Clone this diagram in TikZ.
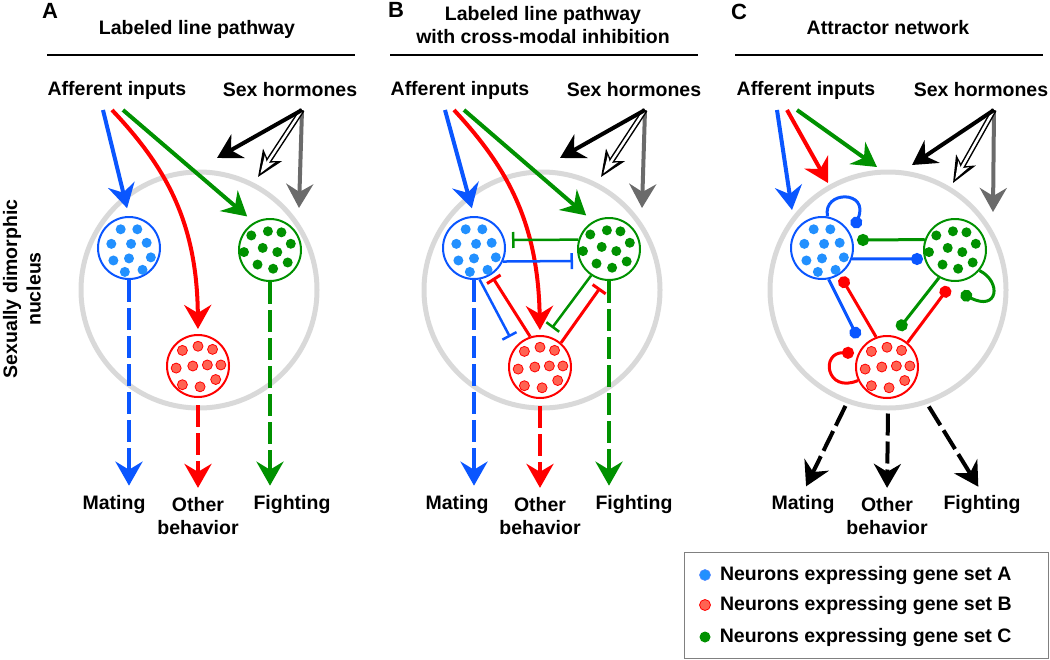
\documentclass[tikz,border=0pt]{standalone}
\usepackage{fontspec}
\setmainfont{Liberation Sans}
\usetikzlibrary{arrows.meta,calc,positioning}
\definecolor{geneA}{HTML}{0A56FF}
\definecolor{geneB}{HTML}{FF0000}
\definecolor{geneC}{HTML}{009100}
\definecolor{dotA}{HTML}{2290FF}
\definecolor{dotB}{HTML}{FF6352}
\definecolor{nucgray}{HTML}{D9D9D9}
\definecolor{hormgray}{HTML}{6B6B6B}
\tikzset{nucleus/.style={
            draw=nucgray,
            line width=5pt,
            circle,
            inner sep=0pt,
            minimum size=236pt
        },
        cluster/.style={
            draw=#1,
            fill=white,
            line width=2pt,
            circle,
            inner sep=0pt,
            minimum size=62pt
        },
        dotsA/.style={fill=dotA},
        dotsB/.style={fill=dotB, draw=geneB, line width=0.8pt},
        dotsC/.style={fill=geneC},
        txt/.style={
            font=\bfseries\fontsize{19.5}{23.5}\selectfont,
            align=center,
            inner sep=2pt
        },
        letter/.style={
            font=\bfseries\fontsize{22}{24}\selectfont,
            inner sep=1pt
        },
        hrule/.style={line width=2pt},
        afferent/.style={
            #1,
            line width=4pt,
            -{Stealth[length=24pt,width=27pt,inset=8pt]}
        },
        hormone/.style={
            #1,
            line width=4pt,
            -{Stealth[length=24pt,width=27pt,inset=8pt]}
        },
        hollow/.style={
            black,
            line width=5.5pt,
            -{Stealth[length=26pt,width=22pt,inset=7pt]}
        },
        hollowcore/.style={
            white,
            line width=2.5pt,
            shorten <=2pt,
            shorten >=4.5pt,
            -{Stealth[length=17pt,width=12pt,inset=5pt]}
        },
        output/.style={
            #1,
            line width=4pt,
            dash pattern=on 22pt off 6pt,
            shorten >=7pt,
            -{Stealth[length=24pt,width=27pt,inset=8pt]}
        },
        inhibit/.style={
            #1,
            line width=2.5pt,
            -{Bar[width=16pt]}
        },
        excite/.style={
            #1,
            line width=3pt,
            -{Circle[length=12pt]}
        },
        keydot/.style={
            circle,
            inner sep=0pt,
            minimum size=11pt,
            #1
        },
        keybox/.style={
            draw=gray,
            line width=1pt,
            minimum width=364pt,
            minimum height=106pt
        }
    }
% offsets of the neurons inside a cluster
\def\patA{-8/-18,8/-18,-17/-4,2/-4,17/-5,-15/12,0/10,21/9,-4/23,13/21}
\def\patB{-15/-15,0/-19,14/-16,-21/2,-5/0,9/-1,22/-1,-15/18,2/20,17/13}
\def\patC{-18/-14,-2/-18,11/-17,-25/2,-7/-2,7/2,20/-6,-12/14,3/18,17/12}
\newcommand{\dotcluster}[3]{%
    \foreach \dx/\dy in #3
        \path[#2] ($(#1)+(1.04*\dx,1.04*\dy)$) circle[radius=5pt];
}

\begin{document}
\begin{tikzpicture}[x=1pt,y=-1pt]
    \useasboundingbox (0,0) rectangle (1050,659);

    % panel A
    \node[letter] (A-letter) at (50,11) {A};
    \node[txt] (A-title) at (197,29) {Labeled line pathway};
    \draw[hrule] (47,55) -- (355,55);
    \node[txt] (A-aff) at (117,90) {Afferent inputs};
    \node[txt] (A-sex) at (290,90) {Sex hormones};
    \node[txt, rotate=90] (A-side) at (22,289) {Sexually dimorphic\\nucleus};
    \node[nucleus] (A-nuc) at (199,290) {};
    \node[cluster=geneA] (A-blue) at (129,248) {};
    \node[cluster=geneC] (A-green) at (270,250) {};
    \node[cluster=geneB] (A-red) at (198,366) {};
    \dotcluster{A-blue}{dotsA}{\patA}
    \dotcluster{A-green}{dotsC}{\patC}
    \dotcluster{A-red}{dotsB}{\patB}
    \node[txt] (A-mate) at (114,504) {Mating};
    \node[txt] (A-other) at (198,516) {Other\\behavior};
    \node[txt] (A-fight) at (292,504) {Fighting};
    \coordinate (A-in) at (112,110);
    \coordinate (A-hor) at (302,110);
    \coordinate (A-hb) at (217,158);
    \coordinate (A-ho) at (258,177);
    \coordinate (A-hg) at (299,208);
    \draw[afferent=geneA, shorten >=8pt] ([xshift=-9pt]A-in) -- (A-blue.north);
    \draw[afferent=geneC, shorten >=9pt] ([xshift=11pt]A-in) -- (A-green.120);
    \draw[afferent=geneB, shorten >=5pt] (A-in) .. controls (164,165) and (197,220) .. (A-red.north);
    \draw[hormone=hormgray] (A-hor) -- (A-hg);
    \draw[hollow] (A-hor) -- (A-ho);
    \draw[hollowcore] (A-hor) -- (A-ho);
    \draw[hormone=black] (A-hor) -- (A-hb);
    \draw[output=geneA] (A-blue.south) -- (A-blue.south |- A-mate.north);
    \draw[output=geneB, shorten <=7pt] (A-red.south) -- (A-red.south |- A-other.north);
    \draw[output=geneC] (A-green.south) -- (A-green.south |- A-fight.north);

    % panel B
    \node[letter] (B-letter) at (396,10) {B};
    \node[txt] (B-title) at (543,25) {Labeled line pathway\\with cross-modal inhibition};
    \draw[hrule] (390,55) -- (698,55);
    \node[txt] (B-aff) at (460,90) {Afferent inputs};
    \node[txt] (B-sex) at (634,90) {Sex hormones};
    \node[nucleus] (B-nuc) at (542,290) {};
    \node[cluster=geneA] (B-blue) at (474,248) {};
    \node[cluster=geneC] (B-green) at (609,249) {};
    \node[cluster=geneB] (B-red) at (540,367) {};
    \dotcluster{B-blue}{dotsA}{\patA}
    \dotcluster{B-green}{dotsC}{\patC}
    \dotcluster{B-red}{dotsB}{\patB}
    \node[txt] (B-mate) at (457,504) {Mating};
    \node[txt] (B-other) at (540,516) {Other\\behavior};
    \node[txt] (B-fight) at (634,504) {Fighting};
    \coordinate (B-in) at (454,110);
    \coordinate (B-hor) at (645,110);
    \coordinate (B-hb) at (560,158);
    \coordinate (B-ho) at (601,177);
    \coordinate (B-hg) at (642,208);
    \coordinate (B-gb) at (512,240);
    \coordinate (B-bg) at (573,261);
    \coordinate (B-br) at (510,337);
    \coordinate (B-rb) at (493,278);
    \coordinate (B-gr) at (552,328);
    \coordinate (B-rg) at (600,288);
    \draw[afferent=geneA, shorten >=8pt] ([xshift=-9pt]B-in) -- (B-blue.north);
    \draw[afferent=geneC, shorten >=9pt] ([xshift=10pt]B-in) -- (B-green.120);
    \draw[afferent=geneB, shorten >=5pt] (B-in) .. controls (505,165) and (538,220) .. (B-red.north);
    \draw[hormone=hormgray] (B-hor) -- (B-hg);
    \draw[hollow] (B-hor) -- (B-ho);
    \draw[hollowcore] (B-hor) -- (B-ho);
    \draw[hormone=black] (B-hor) -- (B-hb);
    \draw[inhibit=geneC] (B-green.163) -- (B-gb);
    \draw[inhibit=geneA] (B-blue.-25) -- (B-bg);
    \draw[inhibit=geneA] (B-blue.-80) -- (B-br);
    \draw[inhibit=geneB, line width=3pt] (B-red.108) -- (B-rb);
    \draw[inhibit=geneC] (B-green.-124) -- (B-gr);
    \draw[inhibit=geneB, line width=3pt] (B-red.49) -- (B-rg);
    \draw[output=geneA] (B-blue.south) -- (B-blue.south |- B-mate.north);
    \draw[output=geneB, shorten <=7pt] (B-red.south) -- (B-red.south |- B-other.north);
    \draw[output=geneC] (B-green.south) -- (B-green.south |- B-fight.north);

    % panel C
    \node[letter] (C-letter) at (739,12) {C};
    \node[txt] (C-title) at (888,28) {Attractor network};
    \draw[hrule] (735,55) -- (1043,55);
    \node[txt] (C-aff) at (806,90) {Afferent inputs};
    \node[txt] (C-sex) at (981,90) {Sex hormones};
    \node[nucleus] (C-nuc) at (888,290) {};
    \node[cluster=geneA] (C-blue) at (822,248) {};
    \node[cluster=geneC] (C-green) at (955,250) {};
    \node[cluster=geneB] (C-red) at (887,367) {};
    \dotcluster{C-blue}{dotsA}{\patA}
    \dotcluster{C-green}{dotsC}{\patC}
    \dotcluster{C-red}{dotsB}{\patB}
    \node[txt] (C-mate) at (803,504) {Mating};
    \node[txt] (C-other) at (887,516) {Other\\behavior};
    \node[txt] (C-fight) at (982,504) {Fighting};
    \coordinate (C-in) at (787,110);
    \coordinate (C-ta) at (792,210);
    \coordinate (C-tb) at (828,183);
    \coordinate (C-tc) at (877,167);
    \coordinate (C-hor) at (994,110);
    \coordinate (C-hb) at (912,165);
    \coordinate (C-ho) at (953,183);
    \coordinate (C-hg) at (993,212);
    \coordinate (C-bl) at (854,228);
    \coordinate (C-gl) at (961,293);
    \coordinate (C-rl) at (854,353);
    \coordinate (C-gb) at (857,240);
    \coordinate (C-bg) at (923,259);
    \coordinate (C-br) at (858,338);
    \coordinate (C-rb) at (841,277);
    \coordinate (C-gr) at (898,330);
    \coordinate (C-rg) at (949,287);
    \draw[afferent=geneA] ([xshift=-10pt]C-in) -- (C-ta);
    \draw[afferent=geneB] (C-in) -- (C-tb);
    \draw[afferent=geneC] ([xshift=10pt]C-in) -- (C-tc);
    \draw[hormone=hormgray] (C-hor) -- (C-hg);
    \draw[hollow] (C-hor) -- (C-ho);
    \draw[hollowcore] (C-hor) -- (C-ho);
    \draw[hormone=black] (C-hor) -- (C-hb);
    \draw[excite=geneA] (C-blue.80) .. controls (822,190) and (870,190) .. (C-bl);
    \draw[excite=geneC] (C-green.-40) .. controls (1002,282) and (998,312) .. (C-gl);
    \draw[excite=geneB] (C-red.205) .. controls (826,394) and (820,352) .. (C-rl);
    \draw[excite=geneC] (C-green.161) -- (C-gb);
    \draw[excite=geneA] (C-blue.-20) -- (C-bg);
    \draw[excite=geneA] (C-blue.-78) -- (C-br);
    \draw[excite=geneB] (C-red.110) -- (C-rb);
    \draw[excite=geneC] (C-green.-120) -- (C-gr);
    \draw[excite=geneB] (C-red.50) -- (C-rg);
    \draw[output=black, shorten <=3pt] (C-nuc.250) -- (C-mate.north);
    \draw[output=black, shorten <=3pt] (C-nuc.south) -- (C-other.north);
    \draw[output=black, shorten <=3pt] (C-nuc.289) -- (C-fight.north);

    % legend
    \node[keybox] (key) at (866,605) {};
    \node[keydot={fill=dotA, draw=geneA!70, line width=0.6pt}] (keyA) at (705,575) {};
    \node[keydot={fill=dotB, draw=geneB, line width=0.8pt}] (keyB) at (705,605) {};
    \node[keydot={fill=geneC}] (keyC) at (705,637) {};
    \node[txt, right=7pt of keyA] (keyA-text) {Neurons expressing gene set A};
    \node[txt, right=7pt of keyB] (keyB-text) {Neurons expressing gene set B};
    \node[txt, right=7pt of keyC] (keyC-text) {Neurons expressing gene set C};
\end{tikzpicture}
\end{document}
